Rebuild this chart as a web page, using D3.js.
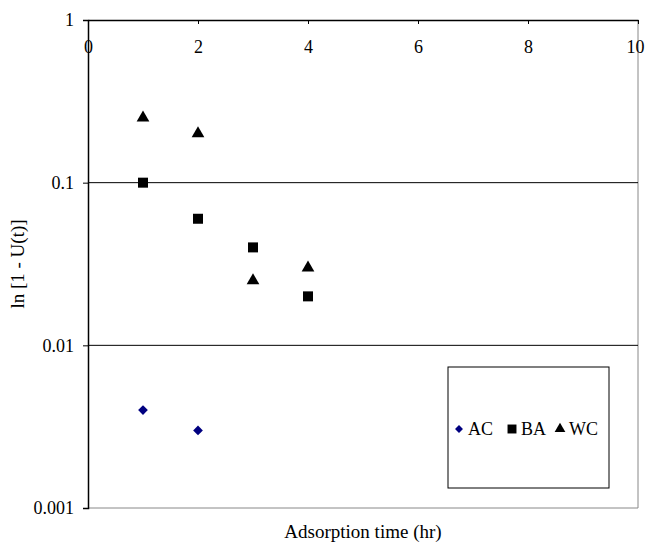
<!DOCTYPE html>
<html lang="en">
<head>
<meta charset="UTF-8">
<title>Adsorption time</title>
<style>
  html, body { margin: 0; padding: 0; background: #fff; }
  svg text { font-family: 'Liberation Serif', 'Times New Roman', serif; fill: #000; }
</style>
</head>
<body>
<div id="vis"></div>
<script src="https://d3js.org/d3.v7.min.js"></script>
<script>
// data
var time = [1, 2, 3, 4];
var acValues = [0.004, 0.003];
var baValues = [0.1, 0.06, 0.04, 0.02];
var wcValues = [0.25, 0.2, 0.025, 0.03];
var xTicks = [0, 2, 4, 6, 8, 10];
var yTicks = [0.001, 0.01, 0.1, 1];
var yTickLabels = ["0.001", "0.01", "0.1", "1"];
var seriesNames = ["AC", "BA", "WC"];

var width = 645, height = 543;
var margin = {top: 20, right: 7, bottom: 35, left: 88};
var plotW = width - margin.left - margin.right;
var plotH = height - margin.top - margin.bottom;

var svg = d3.select("#vis").append("svg")
    .attr("width", width)
    .attr("height", height);

var g = svg.append("g")
    .attr("transform", "translate(" + margin.left + "," + margin.top + ")");

var x = d3.scaleLinear().domain([0, 10]).range([0, plotW]);
var y = d3.scaleLog().domain([0.001, 1]).range([plotH, 0]);

// grey frame on right and bottom
g.append("line").attr("x1", plotW).attr("x2", plotW).attr("y1", 0).attr("y2", plotH)
  .attr("stroke", "#888").attr("stroke-width", 1);
g.append("line").attr("x1", 0).attr("x2", plotW).attr("y1", plotH).attr("y2", plotH)
  .attr("stroke", "#888").attr("stroke-width", 1);

// horizontal gridlines
g.selectAll(".grid").data([0.01, 0.1]).enter().append("line")
  .attr("class", "grid")
  .attr("x1", 0).attr("x2", plotW)
  .attr("y1", function(d){ return y(d); })
  .attr("y2", function(d){ return y(d); })
  .attr("stroke", "#000").attr("stroke-width", 1);

// x axis along the top, labels inside
var xAxis = d3.axisTop(x).tickValues(xTicks).tickSizeOuter(0).tickSizeInner(-4).tickPadding(-33);
var xg = g.append("g").call(xAxis);
xg.select(".domain").attr("stroke", "#000").attr("stroke-width", 1.5);
xg.selectAll(".tick line").attr("stroke", "#000");
xg.selectAll("text").style("font-size", "18px")
  .attr("dx", function(d){ return d === 10 ? "-3" : "0"; });

// y axis
var yAxis = d3.axisLeft(y).tickValues(yTicks).tickSizeOuter(0).tickSize(5).tickPadding(9)
  .tickFormat(function(d, i){ return yTickLabels[i]; });
var yg = g.append("g").call(yAxis);
yg.select(".domain").attr("stroke", "#000").attr("stroke-width", 1.5);
yg.selectAll(".tick line").attr("stroke", "#000");
yg.selectAll("text").style("font-size", "18px");

// axis titles
svg.append("text")
  .attr("x", margin.left + plotW / 2)
  .attr("y", 538)
  .attr("text-anchor", "middle")
  .style("font-size", "19px")
  .text("Adsorption time (hr)");

svg.append("text")
  .attr("transform", "translate(24," + (margin.top + plotH / 2) + ") rotate(-90)")
  .attr("text-anchor", "middle")
  .style("font-size", "19px")
  .text("ln [1 - U(t)]");

var diamond = d3.symbol().type(d3.symbolDiamond2).size(60);
var square = d3.symbol().type(d3.symbolSquare).size(100);
var triangle = d3.symbol().type(d3.symbolTriangle).size(70);

function plotSeries(values, sym, color) {
  g.selectAll(null).data(values).enter().append("path")
    .attr("d", sym)
    .attr("fill", color)
    .attr("transform", function(d, i){
      return "translate(" + x(time[i]) + "," + y(d) + ")";
    });
}
plotSeries(acValues, diamond, "#000080");
plotSeries(baValues, square, "#000");
plotSeries(wcValues, triangle, "#000");

// legend
var legend = svg.append("g").attr("transform", "translate(448,367)");
legend.append("rect")
  .attr("width", 161).attr("height", 121)
  .attr("fill", "#fff").attr("stroke", "#000").attr("stroke-width", 1);

var legSyms = [
  d3.symbol().type(d3.symbolDiamond2).size(40),
  d3.symbol().type(d3.symbolSquare).size(80),
  d3.symbol().type(d3.symbolTriangle).size(50)
];
var legColors = ["#000080", "#000", "#000"];
var legX = [11, 64, 112];
seriesNames.forEach(function(name, i){
  legend.append("path")
    .attr("d", legSyms[i])
    .attr("fill", legColors[i])
    .attr("transform", "translate(" + legX[i] + ",62)");
  legend.append("text")
    .attr("x", legX[i] + 9)
    .attr("y", 68)
    .style("font-size", "18px")
    .text(name);
});
</script>
</body>
</html>
